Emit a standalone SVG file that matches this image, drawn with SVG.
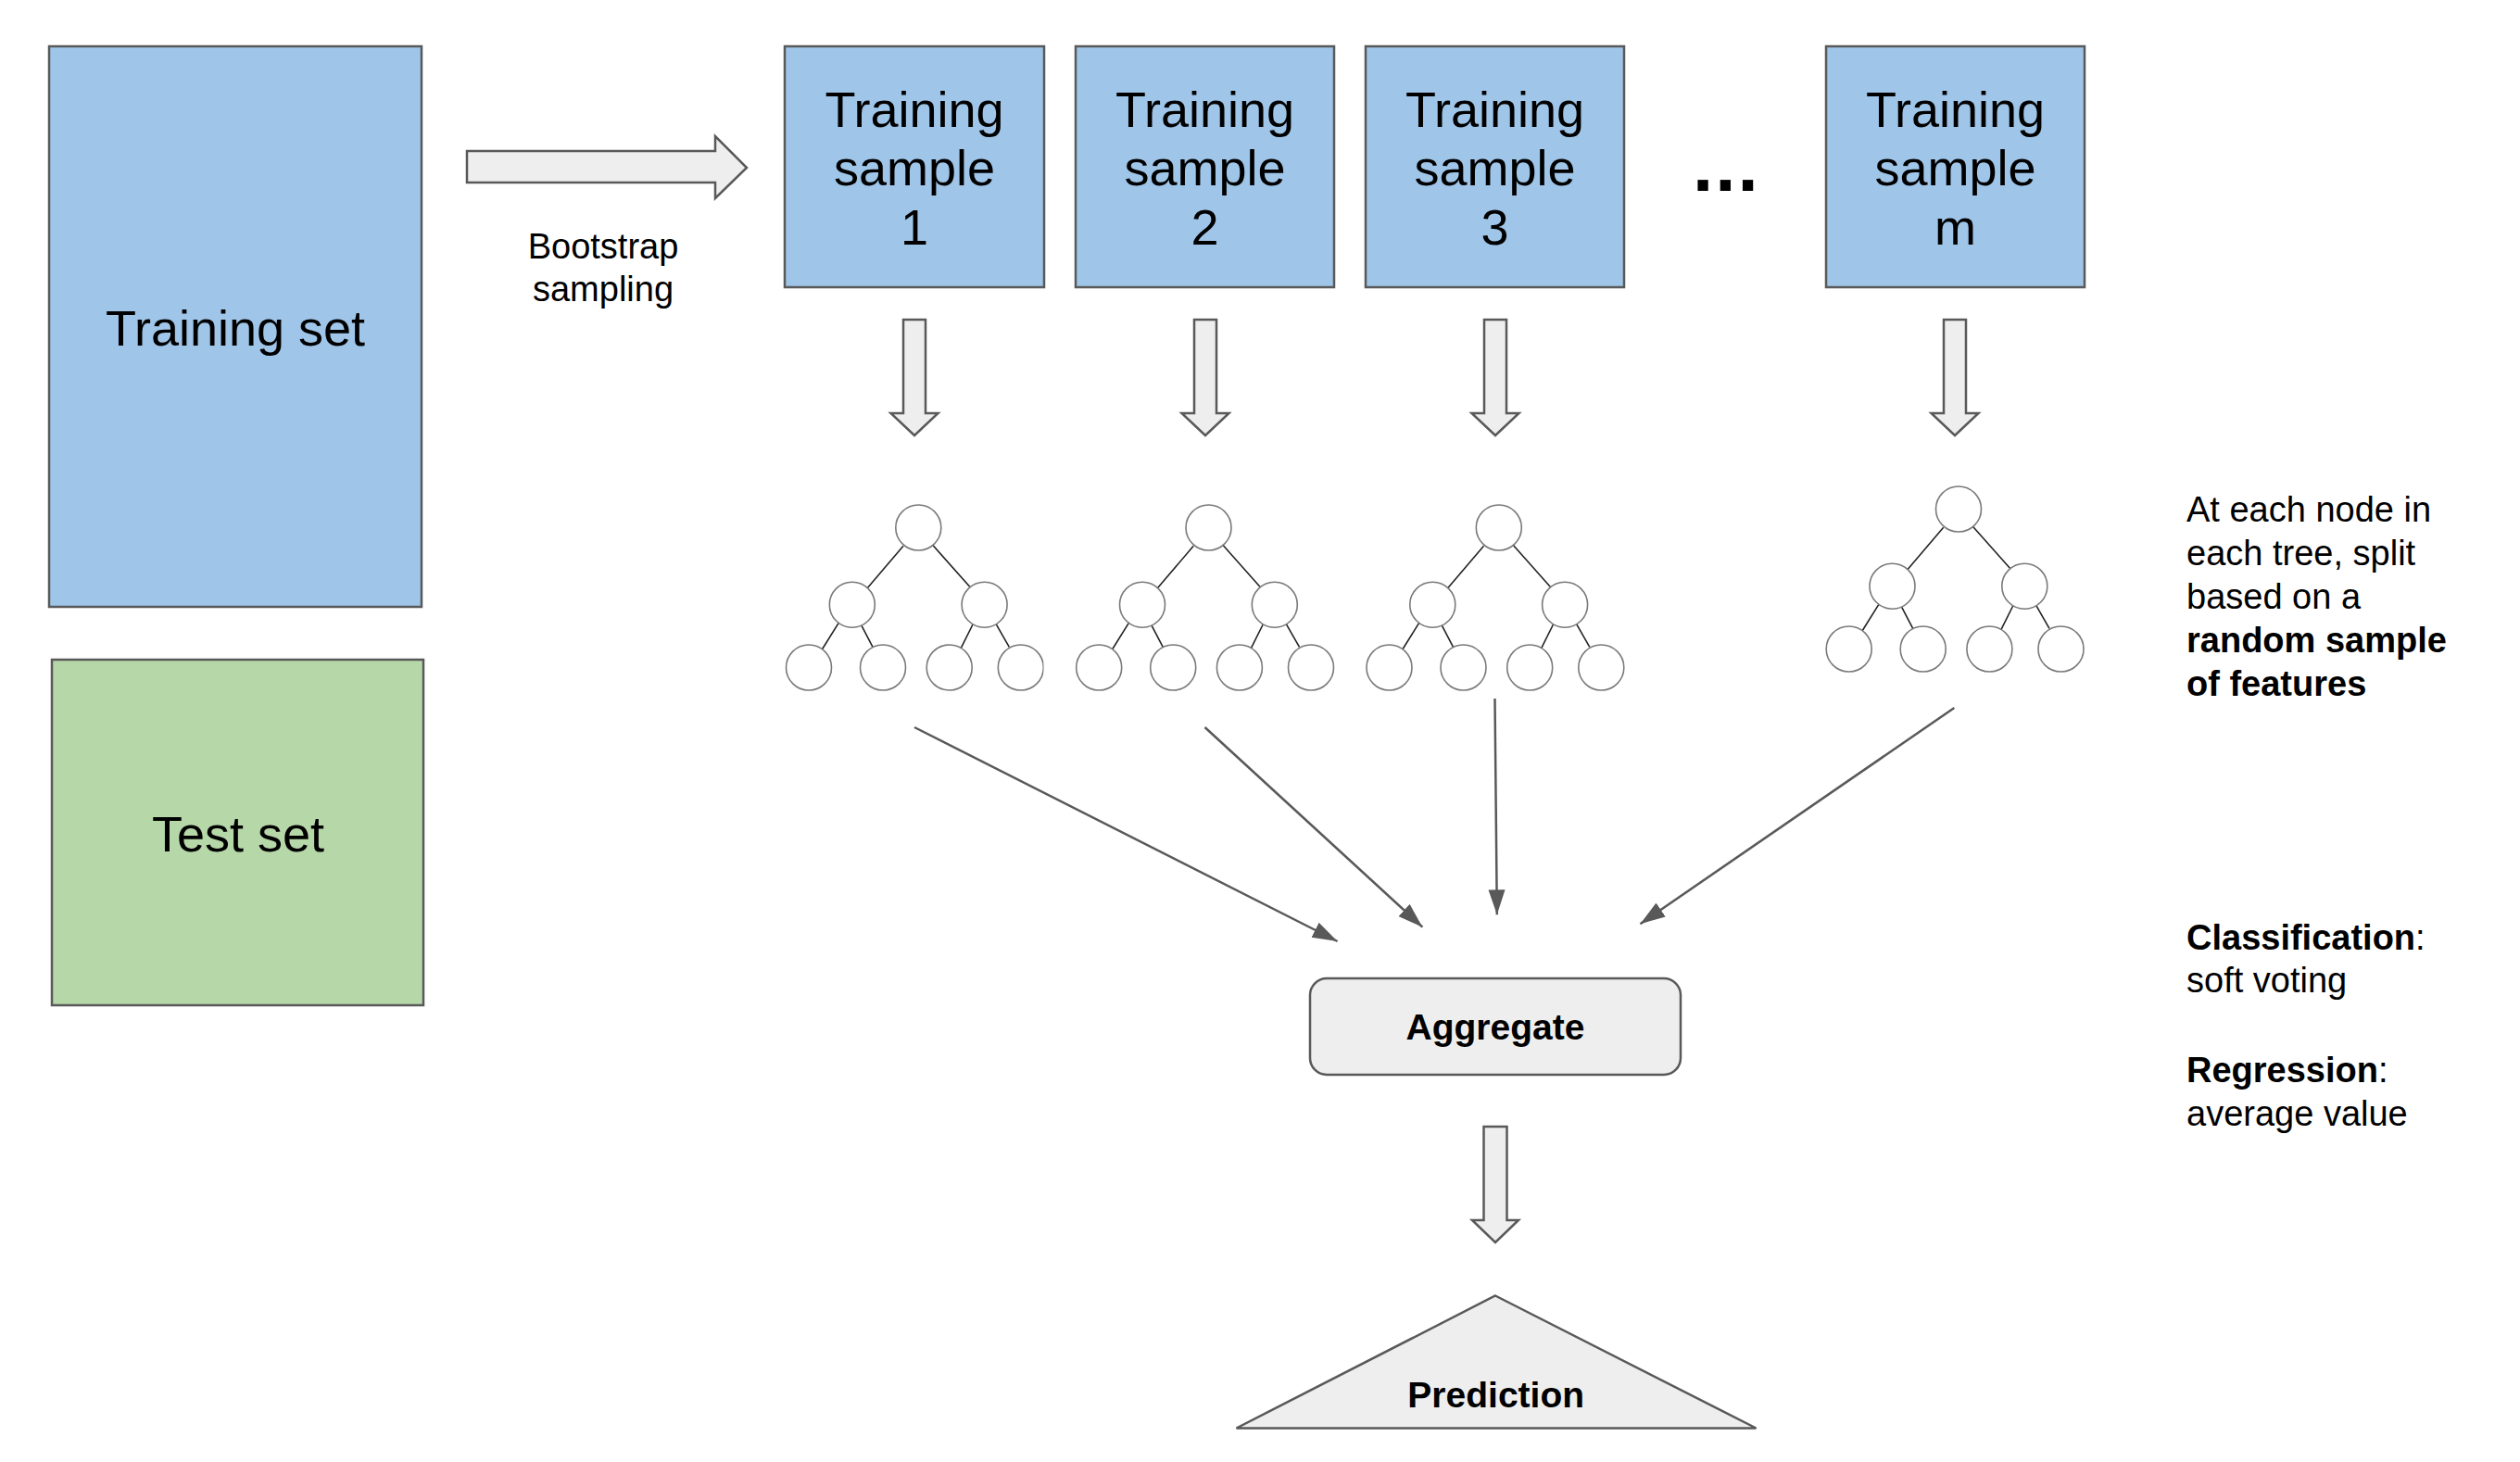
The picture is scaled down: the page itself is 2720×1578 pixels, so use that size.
<svg xmlns="http://www.w3.org/2000/svg" width="2720" height="1578" viewBox="0 0 2720 1578">
<style>
  text { font-family: "Liberation Sans", Arial, sans-serif; fill: #000; }
  .big { font-size: 54px; text-anchor: middle; }
  .mid { font-size: 38px; }
  .bold { font-weight: bold; }
  .blue { fill: #9fc5e8; stroke: #595959; stroke-width: 2.5; }
  .green { fill: #b6d7a8; stroke: #595959; stroke-width: 2.5; }
  .grey { fill: #eeeeee; stroke: #595959; stroke-width: 2.5; stroke-linejoin: miter; }
  .conn { stroke: #595959; stroke-width: 2.5; fill: none; marker-end: url(#ah); }
  .tn { fill: #fff; stroke: #7a7a7a; stroke-width: 1.6; }
  .tl { stroke: #222; stroke-width: 1.6; fill: none; }
</style>
<defs>
  <marker id="ah" markerUnits="userSpaceOnUse" markerWidth="28" markerHeight="20" refX="27" refY="9" orient="auto">
    <path d="M0,0 L27,9 L0,18 z" fill="#595959"/>
  </marker>
  <g id="tree">
    <path class="tl" d="M-16.3,19.8 L-55.3,65.5 M15.4,18.8 L55.4,63.8 M-86.3,103.2 L-104,131.5 M-61.3,105.8 L-49.3,128.8 M58.7,104.5 L45.4,131.2 M83.7,103.8 L98,128.8"/>
    <circle class="tn" cx="0" cy="0" r="24.5"/>
    <circle class="tn" cx="-71.5" cy="83.2" r="24.5"/>
    <circle class="tn" cx="71.3" cy="83.2" r="24.5"/>
    <circle class="tn" cx="-118.3" cy="151" r="24.5"/>
    <circle class="tn" cx="-38.3" cy="151" r="24.5"/>
    <circle class="tn" cx="33.4" cy="151" r="24.5"/>
    <circle class="tn" cx="110.5" cy="151" r="24.5"/>
  </g>
  <clipPath id="clip1"><rect x="800" y="500" width="326.5" height="300"/></clipPath>
</defs>
<rect width="2720" height="1578" fill="#fff"/>

<g id="training-set">
  <rect class="blue" x="53" y="50" width="402" height="605"/>
  <text class="big" x="254" y="373">Training set</text>
</g>
<g id="test-set">
  <rect class="green" x="56" y="712" width="401" height="373"/>
  <text class="big" x="257" y="919">Test set</text>
</g>

<g id="bootstrap">
  <polygon class="grey" points="504,163 772,163 772,147 806,181 772,214 772,197 504,197"/>
  <text class="mid" x="651" y="279" text-anchor="middle">Bootstrap</text>
  <text class="mid" x="651" y="325" text-anchor="middle">sampling</text>
</g>

<g id="sample-1">
  <rect class="blue" x="847" y="50" width="280" height="260"/>
  <text class="big" x="987" y="137">Training</text>
  <text class="big" x="987" y="200">sample</text>
  <text class="big" x="987" y="264">1</text>
</g>
<g id="sample-2">
  <rect class="blue" x="1161" y="50" width="279" height="260"/>
  <text class="big" x="1300.5" y="137">Training</text>
  <text class="big" x="1300.5" y="200">sample</text>
  <text class="big" x="1300.5" y="264">2</text>
</g>
<g id="sample-3">
  <rect class="blue" x="1474" y="50" width="279" height="260"/>
  <text class="big" x="1613.5" y="137">Training</text>
  <text class="big" x="1613.5" y="200">sample</text>
  <text class="big" x="1613.5" y="264">3</text>
</g>
<g id="ellipsis">
  <text x="1827" y="206" font-size="80" font-weight="bold" letter-spacing="2">...</text>
</g>
<g id="sample-m">
  <rect class="blue" x="1971" y="50" width="279" height="260"/>
  <text class="big" x="2110.5" y="137">Training</text>
  <text class="big" x="2110.5" y="200">sample</text>
  <text class="big" x="2110.5" y="264">m</text>
</g>

<g id="down-arrows">
  <polygon class="grey" points="975,345 999,345 999,446 1012.5,446 987,470 961.5,446 975,446"/>
  <polygon class="grey" points="1289,345 1313,345 1313,446 1326.5,446 1301,470 1275.5,446 1289,446"/>
  <polygon class="grey" points="1602,345 1626,345 1626,446 1639.5,446 1614,470 1588.5,446 1602,446"/>
  <polygon class="grey" points="2098,345 2122,345 2122,446 2135.5,446 2110,470 2084.5,446 2098,446"/>
</g>

<g id="tree-1" clip-path="url(#clip1)"><use href="#tree" x="991.3" y="569.5"/></g>
<g id="tree-2"><use href="#tree" x="1304.5" y="569.5"/></g>
<g id="tree-3"><use href="#tree" x="1617.8" y="569.5"/></g>
<g id="tree-m"><use href="#tree" x="2114" y="549.5"/></g>

<g id="note-split">
  <text class="mid" x="2360" y="563">At each node in</text>
  <text class="mid" x="2360" y="610">each tree, split</text>
  <text class="mid" x="2360" y="657">based on a</text>
  <text class="mid bold" x="2360" y="704">random sample</text>
  <text class="mid bold" x="2360" y="751">of features</text>
</g>

<g id="connectors">
  <line class="conn" x1="987" y1="785" x2="1443.6" y2="1016"/>
  <line class="conn" x1="1300.5" y1="785" x2="1535.4" y2="1000.7"/>
  <line class="conn" x1="1613.5" y1="754" x2="1615.8" y2="987.3"/>
  <line class="conn" x1="2109.4" y1="764" x2="1770.4" y2="997.3"/>
</g>

<g id="aggregate">
  <rect class="grey" x="1414" y="1056" width="400" height="104" rx="18" ry="18"/>
  <text class="bold" x="1614" y="1122" font-size="39" text-anchor="middle">Aggregate</text>
</g>

<g id="down-arrow-final">
  <polygon class="grey" points="1601.5,1216 1626.5,1216 1626.5,1317 1639,1317 1614,1341 1589,1317 1601.5,1317"/>
</g>

<g id="prediction">
  <polygon class="grey" points="1614,1398.5 1895.5,1541.5 1334.5,1541.5"/>
  <text class="bold" x="1614.7" y="1519" font-size="39" text-anchor="middle">Prediction</text>
</g>

<g id="note-aggregate">
  <text class="mid" x="2360" y="1025"><tspan font-weight="bold">Classification</tspan>:</text>
  <text class="mid" x="2360" y="1071">soft voting</text>
  <text class="mid" x="2360" y="1168"><tspan font-weight="bold">Regression</tspan>:</text>
  <text class="mid" x="2360" y="1215">average value</text>
</g>
</svg>
